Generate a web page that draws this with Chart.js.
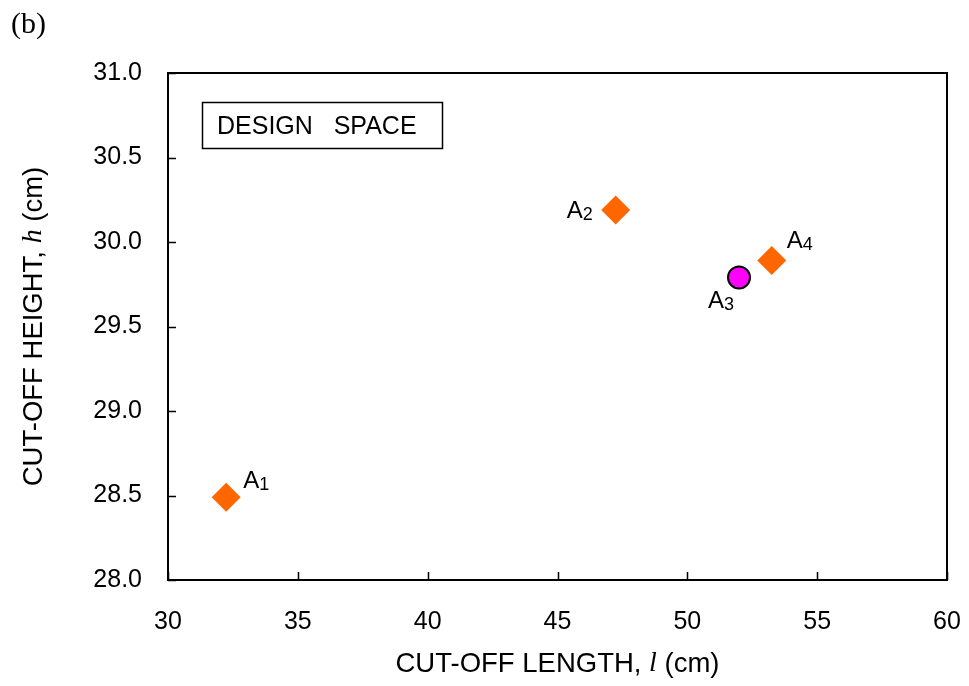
<!DOCTYPE html>
<html>
<head>
<meta charset="utf-8">
<script src="https://cdn.jsdelivr.net/npm/chart.js@4/dist/chart.umd.min.js"></script>
<style>
  body { margin: 0; background: #fff; }
  #wrap { width: 969px; height: 686px; }
</style>
</head>
<body>
<div id="wrap"><canvas id="myChart" width="969" height="686"></canvas></div>
<script>
// data
const pointNames = ["A1", "A2", "A3", "A4"];
const lengthVals = [32.24, 47.24, 51.99, 53.25];
const heightVals = [28.49, 30.19, 29.79, 29.89];
const optimumIdx = 2; // A3 is the circle
const xTicks = [30, 35, 40, 45, 50, 55, 60];
const yTicks = [28.0, 28.5, 29.0, 29.5, 30.0, 30.5, 31.0];

const sans = "'Liberation Sans', Arial, sans-serif";
const serif = "'Liberation Serif', 'Times New Roman', serif";

let diamonds = [];
let circles = [];
pointNames.forEach((n, i) => {
  const p = { x: lengthVals[i], y: heightVals[i], name: n };
  if (i === optimumIdx) circles.push(p); else diamonds.push(p);
});

// label placement relative to the marker (A left edge, baseline)
const labelOffset = { A1: [17, -9], A2: [-49, 8], A3: [-31, 31], A4: [15, -13] };

const extras = {
  id: "extras",
  afterDatasetsDraw(chart) {
    const ctx = chart.ctx;
    const a = chart.chartArea;
    const xs = chart.scales.x, ys = chart.scales.y;
    ctx.save();

    // frame
    ctx.strokeStyle = "#000";
    ctx.lineWidth = 2;
    ctx.strokeRect(a.left, a.top, a.right - a.left, a.bottom - a.top);

    // inward ticks
    ctx.lineWidth = 1.5;
    ctx.beginPath();
    xTicks.forEach(v => {
      const px = Math.round(xs.getPixelForValue(v)) + 0.5;
      ctx.moveTo(px, a.bottom);
      ctx.lineTo(px, a.bottom - 8);
    });
    yTicks.forEach(v => {
      const py = Math.round(ys.getPixelForValue(v)) + 0.5;
      ctx.moveTo(a.left, py);
      ctx.lineTo(a.left + 8, py);
    });
    ctx.stroke();

    // point labels with subscripts
    ctx.fillStyle = "#000";
    ctx.textBaseline = "alphabetic";
    ctx.textAlign = "left";
    chart.data.datasets.forEach((ds, di) => {
      const meta = chart.getDatasetMeta(di);
      meta.data.forEach((el, j) => {
        const name = ds.data[j].name;
        const off = labelOffset[name];
        const lx = el.x + off[0], ly = el.y + off[1];
        ctx.font = "24px " + sans;
        ctx.fillText(name[0], lx, ly);
        const w = ctx.measureText(name[0]).width;
        ctx.font = "18px " + sans;
        ctx.fillText(name.slice(1), lx + w, ly + 2);
      });
    });

    // design space box
    ctx.lineWidth = 1.5;
    ctx.strokeRect(202.5, 102.5, 240, 46);
    ctx.font = "25px " + sans;
    ctx.fillText("DESIGN   SPACE", 217, 134);

    // panel tag
    ctx.font = "30px " + serif;
    ctx.textBaseline = "middle";
    ctx.fillText("(b)", 11, 25);

    // axis titles with italic symbol
    const drawMixed = (parts, cx, cy) => {
      let total = 0;
      parts.forEach(p => { ctx.font = p[1]; total += ctx.measureText(p[0]).width; });
      let x = cx - total / 2;
      parts.forEach(p => {
        ctx.font = p[1];
        ctx.fillText(p[0], x, cy);
        x += ctx.measureText(p[0]).width;
      });
    };
    ctx.textBaseline = "middle";
    drawMixed([
      ["CUT-OFF LENGTH, ", "27.5px " + sans],
      ["l", "italic 28px " + serif],
      [" (cm)", "27.5px " + sans]
    ], (a.left + a.right) / 2, 664);

    ctx.translate(34, (a.top + a.bottom) / 2);
    ctx.rotate(-Math.PI / 2);
    drawMixed([
      ["CUT-OFF HEIGHT, ", "27.5px " + sans],
      ["h", "italic 28px " + serif],
      [" (cm)", "27.5px " + sans]
    ], 0, 0);

    ctx.restore();
  }
};

let myChart = document.getElementById("myChart").getContext("2d");

let designChart = new Chart(myChart, {
  type: "scatter",
  data: {
    datasets: [
      {
        label: "designs",
        data: diamonds,
        pointStyle: "rectRot",
        pointRadius: 14.5,
        pointHoverRadius: 14.5,
        backgroundColor: "#FF6600",
        borderWidth: 0
      },
      {
        label: "optimum",
        data: circles,
        pointStyle: "circle",
        pointRadius: 11,
        pointHoverRadius: 11,
        backgroundColor: "#FF00FF",
        borderColor: "#000",
        borderWidth: 2
      }
    ]
  },
  options: {
    responsive: false,
    animation: false,
    layout: { padding: { top: 73, right: 22, left: 0, bottom: 0 } },
    plugins: { legend: { display: false }, tooltip: { enabled: false } },
    scales: {
      x: {
        type: "linear",
        min: 30,
        max: 60,
        afterBuildTicks: s => { s.ticks = xTicks.map(v => ({ value: v })); },
        afterFit: s => { s.height = 106; s.paddingRight = 0; s.paddingLeft = 0; },
        grid: { display: false, drawTicks: false },
        border: { display: false },
        ticks: {
          color: "#000",
          padding: 27,
          font: { family: sans, size: 25 },
          maxRotation: 0
        }
      },
      y: {
        type: "linear",
        min: 28,
        max: 31,
        afterBuildTicks: s => { s.ticks = yTicks.map(v => ({ value: v })); },
        afterFit: s => { s.width = 168; s.paddingTop = 0; s.paddingBottom = 0; },
        grid: { display: false, drawTicks: false },
        border: { display: false },
        ticks: {
          color: "#000",
          padding: 26,
          font: { family: sans, size: 25 },
          callback: v => v.toFixed(1)
        }
      }
    }
  },
  plugins: [extras]
});
</script>
</body>
</html>
